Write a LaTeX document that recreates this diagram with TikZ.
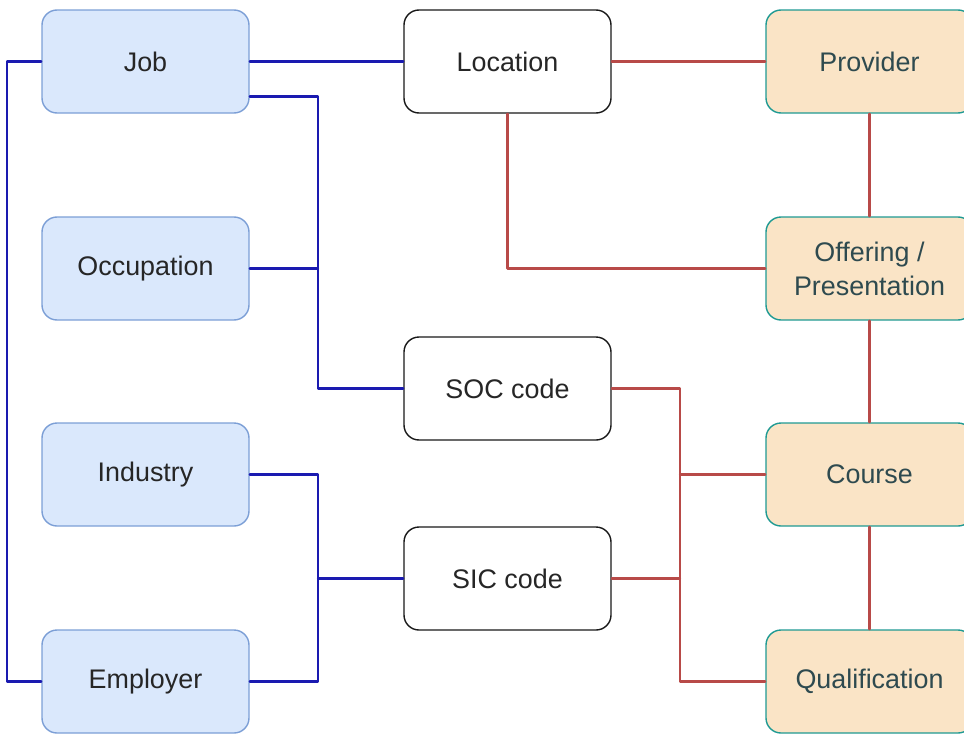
\documentclass[tikz,border=0pt]{standalone}
\usepackage{fontspec}
\setmainfont{Liberation Sans}
\usetikzlibrary{positioning}

\definecolor{jobfill}{HTML}{DAE8FC}
\definecolor{jobdraw}{HTML}{7C9FD6}
\definecolor{crsfill}{HTML}{FAE4C6}
\definecolor{crsdraw}{HTML}{1F9A93}
\definecolor{crstext}{HTML}{2E4A4F}
\definecolor{linkblue}{HTML}{1A1AB0}
\definecolor{linkred}{HTML}{B84A48}

\begin{document}
\begin{tikzpicture}[line cap=round, line join=round]

% --------- styles ----------
\tikzset{
  box/.style={rounded corners=0.3cm, minimum width=4.14cm, minimum height=2.06cm,
    line width=0.8pt, align=center, font=\fontsize{15.3}{19.3}\selectfont},
  jobbox/.style={box, fill=jobfill, draw=jobdraw, text=black!85},
  codebox/.style={box, fill=white, draw=black!90, text=black!85},
  crsbox/.style={box, fill=crsfill, draw=crsdraw, text=crstext},
  bluelink/.style={draw=linkblue, line width=1.2pt},
  redlink/.style={draw=linkred, line width=1.2pt}
}
\def\xl{2.91}     % left column
\def\xm{10.15}    % middle column
\def\xr{17.39}    % right column

\useasboundingbox (0,0) rectangle (19.28,-14.66);

% ===================== labour market side =====================
\node[jobbox] (job)        at (\xl,-1.23)  {Job};
\node[jobbox] (occupation) at (\xl,-5.37)  {Occupation};
\node[jobbox] (industry)   at (\xl,-9.49)  {Industry};
\node[jobbox] (employer)   at (\xl,-13.63) {Employer};

% ===================== shared codes =====================
\node[codebox] (location) at (\xm,-1.23)  {Location};
\node[codebox] (soc)      at (\xm,-7.77)  {SOC code};
\node[codebox] (sic)      at (\xm,-11.57) {SIC code};

% ===================== education side =====================
\node[crsbox] (provider)      at (\xr,-1.23)  {Provider};
\node[crsbox] (offering)      at (\xr,-5.37)  {Offering /\\Presentation};
\node[crsbox] (course)        at (\xr,-9.49)  {Course};
\node[crsbox] (qualification) at (\xr,-13.63) {Qualification};

% bus lines
\coordinate (lbus) at (6.36,0);
\coordinate (rbus) at (13.6,0);

% blue links
\draw[bluelink] (job.west) -- ++(-0.68,0) |- (employer.west);
\draw[bluelink] (job.east) -- (location.west);
\draw[bluelink] ([yshift=-0.7cm]job.east) -| (lbus |- soc.west) -- (soc.west);
\draw[bluelink] (occupation.east) -- (occupation.east -| lbus);
\draw[bluelink] (industry.east) -| (lbus |- employer.east) -- (employer.east);
\draw[bluelink] (sic.west) -- (sic.west -| lbus);

% red links
\draw[redlink] (location.east) -- (provider.west);
\draw[redlink] (location.south) |- (offering.west);
\draw[redlink] (provider.south) -- (offering.north);
\draw[redlink] (offering.south) -- (course.north);
\draw[redlink] (course.south) -- (qualification.north);
\draw[redlink] (soc.east) -| (rbus |- qualification.west) -- (qualification.west);
\draw[redlink] (course.west) -- (course.west -| rbus);
\draw[redlink] (sic.east) -- (sic.east -| rbus);

\end{tikzpicture}
\end{document}
